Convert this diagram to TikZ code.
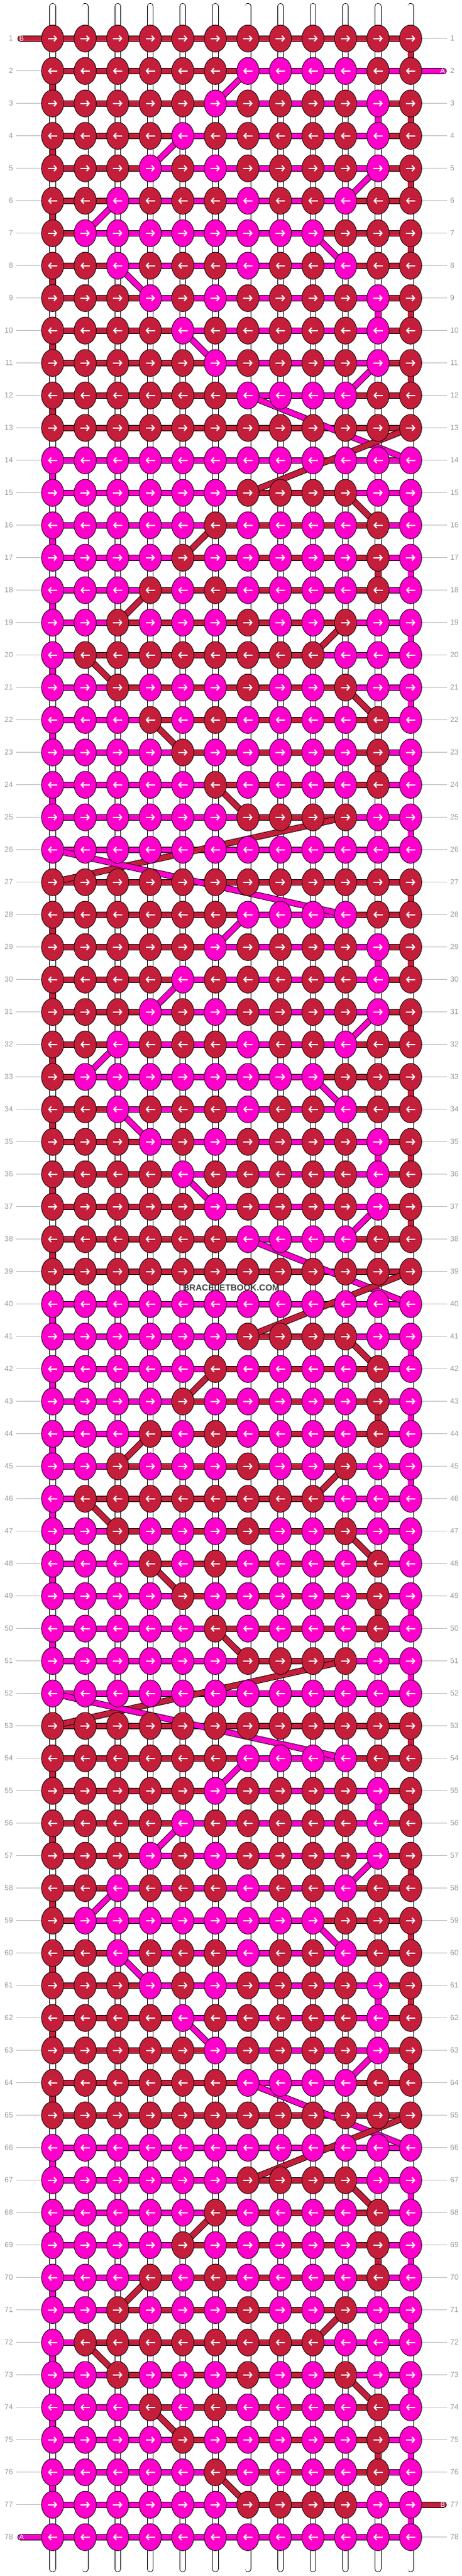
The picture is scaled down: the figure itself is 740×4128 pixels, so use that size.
\documentclass[tikz,border=0pt]{standalone}
\usepackage{fontspec}
\setmainfont{Liberation Sans}
\usetikzlibrary{shapes.geometric,backgrounds,arrows.meta}

\definecolor{crimson}{HTML}{C41E3A}
\definecolor{fuchsia}{HTML}{FF00CC}
\definecolor{labelgray}{HTML}{999999}
\definecolor{linegray}{HTML}{BBBBBB}

% knots of one 13-row block that take the motif colour
\def\knotgrid{{%
0,0,0,0,0,0,0,0,0,0,0,0,%
0,0,0,0,0,0,1,1,1,1,0,0,%
0,0,0,0,0,1,0,0,0,0,1,0,%
0,0,0,0,1,0,0,0,0,0,1,0,%
0,0,0,1,0,1,0,0,0,0,1,0,%
0,0,1,0,0,0,1,0,0,1,0,0,%
0,1,1,1,1,1,1,1,1,0,0,0,%
0,0,1,0,0,0,1,0,0,1,0,0,%
0,0,0,1,0,1,0,0,0,0,1,0,%
0,0,0,0,1,0,0,0,0,0,1,0,%
0,0,0,0,0,1,0,0,0,0,1,0,%
0,0,0,0,0,0,1,1,1,1,0,0,%
0,0,0,0,0,0,0,0,0,0,0,0}}
% stretch of each row carried by the motif string
\def\spanlo{{0,7,6,5,4,3,2,3,4,5,6,7,0}}
\def\spanhi{{0,10,11,11,11,10,9,10,11,11,11,10,0}}

\begin{document}
\begin{tikzpicture}[x=1pt,y=-1pt]
\tikzstyle{knot}=[draw,ellipse,line width=0.8pt,minimum width=35.6pt,minimum height=43.4pt,inner sep=0pt]
\tikzstyle{dirarrow}=[white,line width=2pt,-{Straight Barb[length=4pt,width=9pt]}]
\tikzstyle{strand}=[line width=0.9pt,double distance=8.4pt]
\tikzstyle{rowlabel}=[text=labelgray,font=\fontsize{12}{12}\selectfont,inner sep=0pt]
\tikzstyle{labelline}=[draw=linegray,line width=0.8pt]
\tikzstyle{endlabel}=[text=white,font=\fontsize{11}{11}\selectfont,inner sep=0pt]

\useasboundingbox (0,0) rectangle (740,4128);

% knots
\foreach \bk in {0,...,5} {
  \foreach \rel in {1,...,13} {
    \pgfmathtruncatemacro\r{13*\bk+\rel}
    \foreach \c in {1,...,12} {
      \pgfmathtruncatemacro\ism{\knotgrid[(\rel-1)*12+\c-1]}
      \ifodd\bk\relax \pgfmathtruncatemacro\ism{1-\ism}\fi
      \ifnum\ism=1\relax \def\kcol{fuchsia}\else \def\kcol{crimson}\fi
      \node[knot,fill=\kcol] (k\r-\c) at ({84.4+52.2*(\c-1)},{61.7+52*(\r-1)}) {};
      \ifodd\r\relax
        \draw[dirarrow] ([xshift=-7.5pt]k\r-\c.center) -- ([xshift=7.5pt]k\r-\c.center);
      \else
        \draw[dirarrow] ([xshift=7.5pt]k\r-\c.center) -- ([xshift=-7.5pt]k\r-\c.center);
      \fi
    }
  }
}

% row numbers
\foreach \r in {1,...,78} {
  \pgfmathsetmacro\y{61.7+52*(\r-1)}
  \node[rowlabel,anchor=east] (ll\r) at (21,\y) {\r};
  \node[rowlabel,anchor=west] (rl\r) at (722,\y) {\r};
}

% loose ends and string tops
\coordinate (endB) at (33,61.7);
\coordinate (endA) at (711.5,113.7);
\coordinate (tailB) at (711.5,4013.7);
\coordinate (tailA) at (33,4065.7);
\foreach \c in {1,...,12} {
  \coordinate (top-\c) at ({84.4+52.2*(\c-1)},10);
  \coordinate (bot-\c) at ({84.4+52.2*(\c-1)},4116.6);
}

\begin{pgfonlayer}{background}
% label lines
\foreach \r in {2,...,77}
  \draw[labelline] ([xshift=5pt]ll\r.east) -- (k\r-1.center);
\foreach \r in {1,...,78} {
  \ifnum\r=2\relax\else\ifnum\r=77\relax\else
    \draw[labelline] (k\r-12.center) -- ([xshift=-5pt]rl\r.west);
  \fi\fi
}

% vertical strings
\foreach \c in {1,...,12} {
  \draw[strand,double=white,line cap=round] (top-\c) -- (k1-\c.center);
  \draw[strand,double=white,line cap=round] (k78-\c.center) -- (bot-\c);
}
\foreach \bk in {0,...,5} {
  \ifodd\bk\relax
    \def\basecol{fuchsia}\def\motcol{crimson}\def\dropa{4}\def\dropb{10}
  \else
    \def\basecol{crimson}\def\motcol{fuchsia}\def\dropa{3}\def\dropb{9}
  \fi
  \foreach \rel in {1,...,13} {
    \pgfmathtruncatemacro\r{13*\bk+\rel}
    \pgfmathtruncatemacro\rn{\r+1}
    \ifnum\r<78\relax
      \ifodd\r\relax \def\edge{12}\else \def\edge{1}\fi
      \foreach \c in {1,...,12} {
        \def\vcol{white}
        \ifnum\rel<13\relax \ifnum\c=\edge\relax \let\vcol\basecol\fi\fi
        \ifnum\c=11\relax
          \ifnum\rel=\dropa\relax \let\vcol\motcol\fi
          \ifnum\rel=\dropb\relax \let\vcol\motcol\fi
        \fi
        \draw[strand,double=\vcol] (k\r-\c.center) -- (k\rn-\c.center);
      }
    \fi
  }
}

% working strings along the rows
\foreach \bk in {0,...,5} {
  \ifodd\bk\relax
    \def\basecol{fuchsia}\def\motcol{crimson}
  \else
    \def\basecol{crimson}\def\motcol{fuchsia}
  \fi
  \foreach \rel in {1,...,13} {
    \pgfmathtruncatemacro\r{13*\bk+\rel}
    \pgfmathtruncatemacro\lo{\spanlo[\rel-1]}
    \pgfmathtruncatemacro\hi{\spanhi[\rel-1]}
    \foreach \c in {1,...,11} {
      \pgfmathtruncatemacro\cn{\c+1}
      \let\scol\basecol
      \ifnum\c<\hi\relax \ifnum\c<\lo\relax\else \let\scol\motcol\fi\fi
      \ifnum\r=2\relax \ifnum\c>9\relax \let\scol\motcol\fi\fi
      \draw[strand,double=\scol] (k\r-\c.center) -- (k\r-\cn.center);
    }
  }
}
\draw[strand,double=crimson,line cap=round] (endB) -- (k1-1.center);
\draw[strand,double=fuchsia,line cap=round] (k2-12.center) -- (endA);
\draw[strand,double=crimson,line cap=round] (k77-12.center) -- (tailB);
\draw[strand,double=fuchsia,line cap=round] (tailA) -- (k78-1.center);

% motif string changing rows
\foreach \bk in {0,2,4} {
  \foreach \rel/\ca/\cb in {2/7/6,4/5/4,5/11/10,6/3/2,7/9/10,8/3/4,10/5/6,11/11/10} {
    \pgfmathtruncatemacro\ra{13*\bk+\rel}
    \pgfmathtruncatemacro\rb{\ra+1}
    \draw[strand,double=fuchsia] (k\ra-\ca.center) -- (k\rb-\cb.center);
  }
}
\foreach \bk in {1,3,5} {
  \foreach \rel/\ca/\cb in {2/10/11,3/6/5,5/4/3,6/10/9,7/2/3,8/10/11,9/4/5,11/6/7} {
    \pgfmathtruncatemacro\ra{13*\bk+\rel}
    \pgfmathtruncatemacro\rb{\ra+1}
    \draw[strand,double=crimson] (k\ra-\ca.center) -- (k\rb-\cb.center);
  }
}
% strings swapping between blocks
\foreach \ra in {12,38,64} {
  \pgfmathtruncatemacro\rb{\ra+1}
  \pgfmathtruncatemacro\rc{\ra+2}
  \pgfmathtruncatemacro\rd{\ra+3}
  \draw[strand,double=fuchsia] (k\ra-7.center) -- (k\rc-12.center);
  \draw[strand,double=crimson] (k\rb-12.center) -- (k\rd-7.center);
}
\foreach \ra in {25,51} {
  \pgfmathtruncatemacro\rb{\ra+1}
  \pgfmathtruncatemacro\rc{\ra+2}
  \pgfmathtruncatemacro\rd{\ra+3}
  \draw[strand,double=crimson] (k\ra-10.center) -- (k\rc-1.center);
  \draw[strand,double=fuchsia] (k\rb-1.center) -- (k\rd-10.center);
}
\end{pgfonlayer}

\node[endlabel] (labB) at ([xshift=1.5pt]endB) {B};
\node[endlabel] (labA) at ([xshift=-1.5pt]endA) {A};
\node[endlabel] (labtB) at ([xshift=-1.5pt]tailB) {B};
\node[endlabel] (labtA) at ([xshift=1.5pt]tailA) {A};

\node[font=\bfseries\fontsize{14}{14}\selectfont,text=black!75] (mark) at (371,2064) {BRACELETBOOK.COM};
\end{tikzpicture}
\end{document}
